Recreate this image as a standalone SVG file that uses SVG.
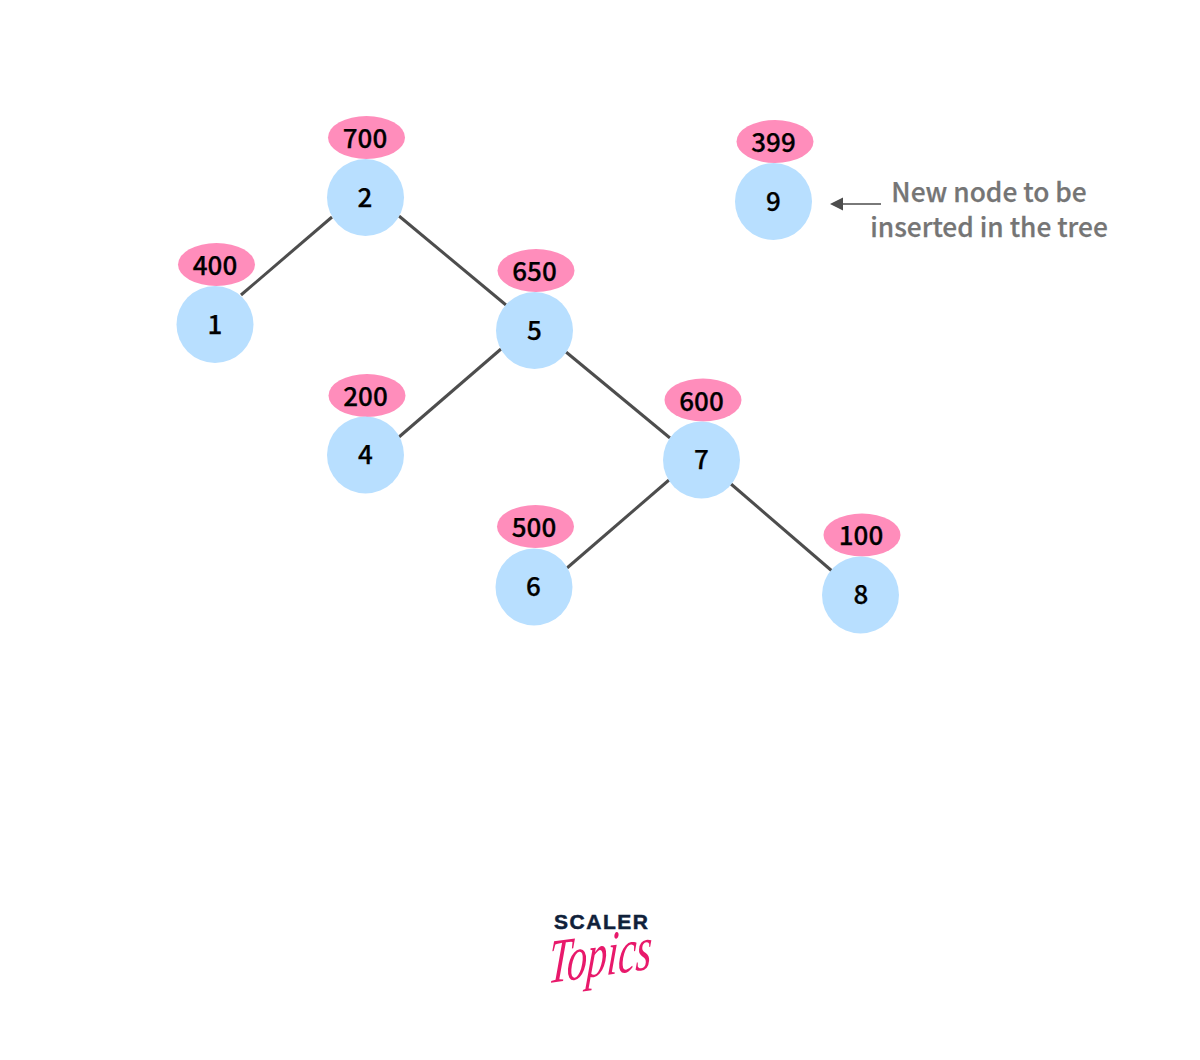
<svg xmlns="http://www.w3.org/2000/svg" width="1200" height="1060" viewBox="0 0 1200 1060">
<style>
.n{fill:#b8dfff}
.v{fill:#ff8dbb}
text{font-family:"Noto Sans CJK JP","Noto Sans",sans-serif;text-anchor:middle}
.t{font-size:26px;font-weight:500;fill:#000;stroke:#000;stroke-width:.25px}
.note{font-size:26.300px;font-weight:500;fill:#757575;stroke:#757575;stroke-width:.25px}
.e{stroke:#4d4d4d;stroke-width:3;fill:none}
</style>
<rect width="1200" height="1060" fill="#fff"/>
<g id="connectors">
<line class="e" x1="332" y1="217" x2="241" y2="295"/>
<line class="e" x1="399" y1="216" x2="506" y2="305"/>
<line class="e" x1="501" y1="349" x2="399" y2="437"/>
<line class="e" x1="566" y1="352" x2="670" y2="438"/>
<line class="e" x1="669" y1="480" x2="567" y2="568"/>
<line class="e" x1="731" y1="484" x2="832" y2="571"/>
<line x1="881" y1="204" x2="843" y2="204" stroke="#4d4d4d" stroke-width="1.500"/>
<path d="M830 204L843 197.500V210.500Z" fill="#4d4d4d"/>
</g>
<g id="node-2"><ellipse class="v" cx="366.500" cy="137.500" rx="38.500" ry="21.500"/><circle class="n" cx="365.500" cy="197.500" r="38.500"/><text class="t" x="365" y="148">700</text><text class="t" x="365" y="207">2</text></g>
<g id="node-1"><ellipse class="v" cx="216.500" cy="264.500" rx="38.500" ry="21.500"/><circle class="n" cx="215" cy="324.500" r="38.500"/><text class="t" x="215" y="274.500">400</text><text class="t" x="215" y="334">1</text></g>
<g id="node-5"><ellipse class="v" cx="536" cy="270.500" rx="38.500" ry="21.500"/><circle class="n" cx="534.500" cy="330.500" r="38.500"/><text class="t" x="534.500" y="281">650</text><text class="t" x="534.500" y="340">5</text></g>
<g id="node-4"><ellipse class="v" cx="367" cy="395.500" rx="38.500" ry="21.500"/><circle class="n" cx="365.500" cy="455" r="38.500"/><text class="t" x="365.500" y="405.500">200</text><text class="t" x="365.500" y="464">4</text></g>
<g id="node-7"><ellipse class="v" cx="703" cy="400" rx="38.500" ry="21.500"/><circle class="n" cx="701.500" cy="460" r="38.500"/><text class="t" x="701.500" y="410.500">600</text><text class="t" x="701.500" y="469">7</text></g>
<g id="node-6"><ellipse class="v" cx="535.500" cy="526.500" rx="38.500" ry="21.500"/><circle class="n" cx="534" cy="587" r="38.500"/><text class="t" x="534" y="537">500</text><text class="t" x="533.500" y="596">6</text></g>
<g id="node-8"><ellipse class="v" cx="862" cy="535" rx="38.500" ry="21.500"/><circle class="n" cx="860.500" cy="595" r="38.500"/><text class="t" x="861" y="544.500">100</text><text class="t" x="861" y="604">8</text></g>
<g id="node-9"><ellipse class="v" cx="775" cy="141.500" rx="38.500" ry="21.500"/><circle class="n" cx="773.500" cy="201.500" r="38.500"/><text class="t" x="773.500" y="151.500">399</text><text class="t" x="773.500" y="211">9</text></g>
<g id="note"><text class="note" x="989" y="201.500">New node to be</text><text class="note" x="989" y="236.500">inserted in the tree</text></g>
<g id="logo">
<text x="601" y="928.500" style="font-family:'Liberation Sans',sans-serif;font-size:21px;font-weight:700" fill="#10213a" stroke="#10213a" stroke-width=".5" textLength="94" lengthAdjust="spacing">SCALER</text>
<text transform="translate(599 976) rotate(-8) skewX(-12)" style="font-family:'Liberation Serif',serif;font-size:62px;font-style:italic" fill="#e8196b" textLength="104" lengthAdjust="spacingAndGlyphs">Topics</text>
</g>
</svg>
